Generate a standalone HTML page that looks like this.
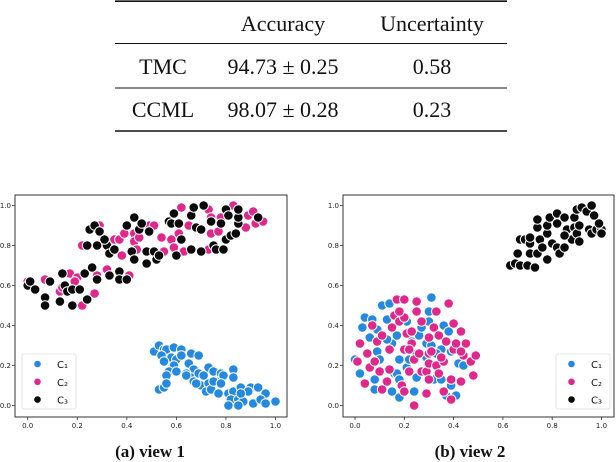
<!DOCTYPE html>
<html><head><meta charset="utf-8">
<style>
html,body{margin:0;padding:0;background:#fff;}
svg{display:block;}
.tick{font-family:"DejaVu Sans","Liberation Sans",sans-serif;font-size:7px;fill:#222;}
.tbl{font-family:"Liberation Serif",serif;font-size:22px;fill:#111;}
.cap{font-family:"Liberation Serif",serif;font-size:17px;font-weight:bold;fill:#111;}
.leg{font-family:"DejaVu Sans","Liberation Sans",sans-serif;font-size:10px;fill:#111;}
</style></head>
<body>
<svg id="root" width="616" height="462" viewBox="0 0 616 462">
  <g>
    <line x1="115" y1="1.2" x2="507" y2="1.2" stroke="#111" stroke-width="1.6"/>
    <line x1="115" y1="43.5" x2="507" y2="43.5" stroke="#111" stroke-width="1"/>
    <line x1="115" y1="88" x2="507" y2="88" stroke="#111" stroke-width="1"/>
    <line x1="115" y1="131" x2="507" y2="131" stroke="#111" stroke-width="1.6"/>
    <text class="tbl" x="283" y="31" text-anchor="middle">Accuracy</text>
    <text class="tbl" x="432" y="31" text-anchor="middle">Uncertainty</text>
    <text class="tbl" x="163" y="74" text-anchor="middle">TMC</text>
    <text class="tbl" x="283" y="74" text-anchor="middle">94.73 ± 0.25</text>
    <text class="tbl" x="432" y="74" text-anchor="middle">0.58</text>
    <text class="tbl" x="163" y="117" text-anchor="middle">CCML</text>
    <text class="tbl" x="283" y="117" text-anchor="middle">98.07 ± 0.28</text>
    <text class="tbl" x="432" y="117" text-anchor="middle">0.23</text>
  </g>
  <g id="plotA"></g>
  <g id="plotB"></g>
  <text class="cap" x="150" y="457" text-anchor="middle">(a) view 1</text>
  <text class="cap" x="470" y="457" text-anchor="middle">(b) view 2</text>
</svg>
<script>
const ticks = [0.0, 0.2, 0.4, 0.6, 0.8, 1.0];
const tickLabels = ["0.0","0.2","0.4","0.6","0.8","1.0"];
const classNames = ["C₁","C₂","C₃"];
const classColors = ["#2589e0","#e0288c","#0a0a0a"];

const v1c1 = [[0.51,0.27],[0.53,0.30],[0.55,0.28],[0.56,0.28],[0.59,0.29],[0.62,0.28],[0.54,0.25],[0.58,0.24],[0.55,0.22],[0.60,0.23],[0.62,0.25],[0.66,0.26],[0.69,0.25],[0.59,0.20],[0.57,0.17],[0.56,0.15],[0.60,0.17],[0.65,0.21],[0.67,0.18],[0.64,0.16],[0.66,0.14],[0.69,0.16],[0.71,0.15],[0.73,0.19],[0.75,0.17],[0.78,0.16],[0.67,0.12],[0.70,0.10],[0.73,0.11],[0.76,0.12],[0.79,0.15],[0.83,0.18],[0.83,0.14],[0.72,0.07],[0.74,0.08],[0.77,0.06],[0.81,0.06],[0.83,0.07],[0.86,0.09],[0.90,0.09],[0.93,0.09],[0.96,0.06],[0.82,0.03],[0.85,0.03],[0.89,0.07],[0.87,0.02],[0.91,0.01],[0.94,0.03],[0.96,0.01],[1.00,0.02],[0.81,0.00],[0.85,0.00],[0.53,0.08],[0.55,0.09],[0.56,0.11],[0.68,0.11],[0.64,0.15],[0.75,0.12],[0.78,0.11],[0.86,0.06]];
const v1c2 = [[0.00,0.62],[0.07,0.63],[0.13,0.57],[0.17,0.66],[0.20,0.64],[0.22,0.50],[0.27,0.56],[0.22,0.80],[0.29,0.90],[0.28,0.65],[0.32,0.68],[0.35,0.83],[0.37,0.83],[0.39,0.86],[0.43,0.86],[0.43,0.82],[0.45,0.84],[0.49,0.90],[0.51,0.90],[0.41,0.65],[0.38,0.75],[0.44,0.78],[0.54,0.84],[0.58,0.83],[0.55,0.77],[0.59,0.79],[0.63,0.77],[0.61,0.86],[0.65,0.90],[0.62,0.99],[0.73,0.98],[0.74,0.94],[0.74,0.86],[0.77,0.87],[0.73,0.78],[0.78,0.94],[0.83,1.00],[0.88,0.89],[0.89,0.95],[0.91,0.97],[0.92,0.91],[0.95,0.92],[0.14,0.59],[0.19,0.62]];
const v1c3 = [[0.00,0.60],[0.01,0.62],[0.03,0.58],[0.07,0.54],[0.09,0.62],[0.14,0.66],[0.15,0.60],[0.16,0.57],[0.18,0.58],[0.18,0.50],[0.21,0.58],[0.24,0.53],[0.23,0.66],[0.26,0.69],[0.28,0.63],[0.25,0.88],[0.27,0.90],[0.29,0.87],[0.24,0.80],[0.28,0.80],[0.32,0.80],[0.31,0.83],[0.33,0.76],[0.35,0.78],[0.33,0.65],[0.37,0.67],[0.37,0.63],[0.40,0.63],[0.40,0.90],[0.43,0.94],[0.45,0.88],[0.46,0.91],[0.49,0.87],[0.42,0.77],[0.43,0.73],[0.48,0.77],[0.48,0.71],[0.51,0.77],[0.52,0.73],[0.53,0.75],[0.57,0.92],[0.58,0.91],[0.59,0.96],[0.61,0.91],[0.62,0.83],[0.60,0.75],[0.66,0.78],[0.66,0.95],[0.67,0.99],[0.71,1.00],[0.70,0.77],[0.68,0.89],[0.70,0.88],[0.74,0.92],[0.75,0.80],[0.76,0.78],[0.79,0.78],[0.78,0.91],[0.80,0.98],[0.81,0.95],[0.80,0.83],[0.82,0.85],[0.84,0.86],[0.85,0.91],[0.85,0.94],[0.85,0.98],[0.93,0.94],[0.07,0.50],[0.13,0.52]];

const v2c1 = [[0.00,0.23],[0.02,0.16],[0.03,0.39],[0.04,0.44],[0.06,0.34],[0.07,0.43],[0.08,0.13],[0.08,0.08],[0.09,0.38],[0.09,0.27],[0.10,0.23],[0.11,0.50],[0.14,0.51],[0.13,0.43],[0.15,0.31],[0.15,0.07],[0.16,0.16],[0.17,0.16],[0.17,0.35],[0.18,0.04],[0.18,0.23],[0.18,0.13],[0.21,0.42],[0.21,0.19],[0.23,0.32],[0.24,0.07],[0.25,0.26],[0.25,0.14],[0.26,0.35],[0.27,0.39],[0.28,0.25],[0.29,0.31],[0.29,0.24],[0.30,0.42],[0.31,0.54],[0.30,0.47],[0.31,0.30],[0.32,0.13],[0.35,0.13],[0.35,0.28],[0.36,0.40],[0.37,0.05],[0.38,0.37],[0.39,0.27],[0.39,0.10],[0.41,0.05],[0.42,0.21],[0.44,0.20],[0.33,0.26],[0.22,0.23],[0.13,0.33]];
const v2c2 = [[0.01,0.22],[0.02,0.31],[0.04,0.11],[0.05,0.26],[0.06,0.19],[0.07,0.40],[0.09,0.32],[0.08,0.22],[0.10,0.17],[0.11,0.08],[0.11,0.35],[0.13,0.12],[0.14,0.28],[0.15,0.39],[0.14,0.18],[0.16,0.45],[0.17,0.53],[0.18,0.42],[0.19,0.10],[0.20,0.28],[0.20,0.53],[0.20,0.44],[0.18,0.47],[0.20,0.07],[0.21,0.36],[0.22,0.17],[0.23,0.31],[0.22,0.28],[0.24,0.23],[0.23,0.37],[0.24,0.00],[0.25,0.47],[0.25,0.52],[0.27,0.17],[0.26,0.26],[0.27,0.42],[0.29,0.17],[0.29,0.06],[0.30,0.13],[0.30,0.34],[0.30,0.21],[0.30,0.26],[0.31,0.27],[0.32,0.39],[0.33,0.47],[0.33,0.20],[0.34,0.16],[0.34,0.35],[0.36,0.07],[0.36,0.22],[0.37,0.32],[0.38,0.51],[0.39,0.13],[0.39,0.03],[0.40,0.28],[0.40,0.41],[0.41,0.31],[0.43,0.12],[0.43,0.37],[0.44,0.25],[0.45,0.31],[0.47,0.22],[0.48,0.15],[0.49,0.25],[0.43,0.27],[0.35,0.24]];
const v2c3 = [[0.63,0.70],[0.65,0.71],[0.67,0.70],[0.70,0.70],[0.73,0.69],[0.66,0.76],[0.67,0.83],[0.69,0.83],[0.71,0.81],[0.71,0.84],[0.71,0.76],[0.74,0.76],[0.75,0.83],[0.74,0.89],[0.74,0.93],[0.78,0.73],[0.78,0.86],[0.78,0.90],[0.79,0.94],[0.80,0.81],[0.82,0.91],[0.82,0.96],[0.82,0.79],[0.83,0.76],[0.85,0.79],[0.86,0.88],[0.85,0.94],[0.88,0.83],[0.89,0.89],[0.89,0.94],[0.90,0.86],[0.91,0.90],[0.90,0.98],[0.92,0.99],[0.94,0.97],[0.96,1.00],[0.97,0.95],[0.95,0.88],[0.96,0.86],[0.98,0.88],[1.00,0.88],[0.99,0.91],[1.00,0.86],[0.91,0.82],[0.76,0.79],[0.85,0.85]];

const NS = "http://www.w3.org/2000/svg";
function mk(tag, attrs, parent){
  const e = document.createElementNS(NS, tag);
  for (const k in attrs) e.setAttribute(k, attrs[k]);
  parent.appendChild(e);
  return e;
}

function drawPlot(g, cfg, series, legendX){
  const sx = v => cfg.x0 + v * (cfg.x1 - cfg.x0);
  const sy = v => cfg.y0 - v * (cfg.y0 - cfg.y1);
  const frame = mk("rect", {x:cfg.fl, y:cfg.ft, width:cfg.fr-cfg.fl, height:cfg.fb-cfg.ft, fill:"none", stroke:"#333", "stroke-width":1}, g);
  
  
  ticks.forEach((t, i) => {
    const xt = mk("line", {x1:sx(t), x2:sx(t), y1:cfg.fb, y2:cfg.fb+3, stroke:"#333", "stroke-width":0.8}, g);
    
    
    const xl = mk("text", {x:sx(t), y:cfg.fb+11, "text-anchor":"middle", class:"tick"}, g);
    xl.textContent = tickLabels[i];
    
    
    const yt = mk("line", {x1:cfg.fl-3, x2:cfg.fl, y1:sy(t), y2:sy(t), stroke:"#333", "stroke-width":0.8}, g);
    
    
    const yl = mk("text", {x:cfg.fl-4, y:sy(t)+2.5, "text-anchor":"end", class:"tick"}, g);
    yl.textContent = tickLabels[i];
    
    
  });
  series.forEach((pts, ci) => {
    pts.forEach(p => {
      const c = mk("circle", {cx:sx(p[0]), cy:sy(p[1]), r:4.8, fill:classColors[ci], stroke:"#fff", "stroke-width":1}, g);
      
      
    });
  });
  const lg = mk("g", {}, g);
  
  
  const lb = mk("rect", {x:legendX, y:354, width:54, height:55, rx:2, fill:"#fff", "fill-opacity":0.85, stroke:"#ddd", "stroke-width":0.8}, lg);
  
  
  classNames.forEach((n, i) => {
    const yy = 364 + i*17.8;
    const m = mk("circle", {cx:legendX+15.5, cy:yy, r:3.3, fill:classColors[i]}, lg);
    
    
    const t = mk("text", {x:legendX+35, y:yy+4, class:"leg"}, lg);
    t.textContent = n;
    
    
  });
}

drawPlot(document.getElementById("plotA"),
  {x0:27.7, x1:275.5, y0:405.5, y1:205.5, fl:15, fr:287, ft:195, fb:417},
  [v1c1, v1c2, v1c3], 22);
drawPlot(document.getElementById("plotB"),
  {x0:355, x1:601.5, y0:405.5, y1:205.5, fl:343, fr:614, ft:195, fb:417},
  [v2c1, v2c2, v2c3], 556);
</script>
</body></html>
